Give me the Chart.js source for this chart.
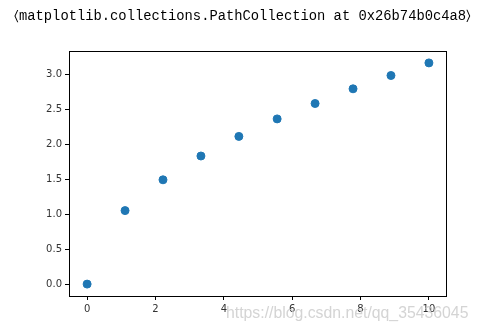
<!DOCTYPE html>
<html><head><meta charset="utf-8">
<script src="https://cdn.jsdelivr.net/npm/chart.js@4/dist/chart.umd.min.js"></script>
<style>html,body{margin:0;padding:0;background:#fff}#c{display:block}</style>
</head><body>
<canvas id="c" width="479" height="331"></canvas>
<script>
const xValues = [0, 1.11, 2.22, 3.33, 4.44, 5.56, 6.67, 7.78, 8.89, 10];
const yValues = [0, 1.05, 1.49, 1.83, 2.11, 2.36, 2.58, 2.79, 2.98, 3.16];
const xTicks = [0, 2, 4, 6, 8, 10];
const yTicks = [0, 0.5, 1.0, 1.5, 2.0, 2.5, 3.0];
const headerText = '\u2329matplotlib.collections.PathCollection at 0x26b74b0c4a8\u232A';
const watermarkText = 'https://blog.csdn.net/qq_35436045';

const points = xValues.map((x, i) => ({x: x, y: yValues[i]}));

const framePlugin = {
  id: 'frame',
  afterDraw(chart) {
    const ctx = chart.ctx, a = chart.chartArea;
    ctx.save();
    ctx.strokeStyle = '#000';
    ctx.lineWidth = 1;
    ctx.strokeRect(Math.round(a.left) + 0.5, Math.round(a.top) + 0.5, Math.round(a.right - a.left), Math.round(a.bottom - a.top));
    ctx.fillStyle = '#000';
    ctx.font = '13.8px "Liberation Mono", "DejaVu Sans Mono", monospace';
    ctx.textBaseline = 'middle';
    ctx.fillText(headerText, 14, 16);
    ctx.fillStyle = 'rgba(205,205,205,0.85)';
    ctx.font = '15.8px "Liberation Sans", Arial, sans-serif';
    ctx.fillText(watermarkText, 226, 314);
    ctx.restore();
  }
};

new Chart(document.getElementById('c'), {
  type: 'scatter',
  data: { datasets: [{ data: points, backgroundColor: '#1f77b4', borderColor: '#1f77b4', pointRadius: 4, pointHoverRadius: 4 }] },
  options: {
    responsive: false,
    animation: false,
    events: [],
    layout: { padding: { top: 51, right: 33, left: 0, bottom: 0 } },
    plugins: { legend: { display: false }, tooltip: { enabled: false } },
    scales: {
      x: {
        type: 'linear', min: -0.53, max: 10.5,
        afterBuildTicks: s => { s.ticks = xTicks.map(v => ({value: v})); },
        afterFit: s => { s.height = 35; },
        grid: { display: true, drawOnChartArea: false, drawTicks: true, tickLength: 4, color: '#000' },
        border: { display: true, color: '#000' },
        ticks: { color: '#333', font: { family: 'DejaVu Sans', size: 10 }, padding: 3, maxRotation: 0, callback: v => String(v) }
      },
      y: {
        type: 'linear', min: -0.17, max: 3.33,
        afterBuildTicks: s => { s.ticks = yTicks.map(v => ({value: v})); },
        afterFit: s => { s.width = 69; },
        grid: { display: true, drawOnChartArea: false, drawTicks: true, tickLength: 4, color: '#000' },
        border: { display: true, color: '#000' },
        ticks: { color: '#333', font: { family: 'DejaVu Sans', size: 10 }, padding: 3, callback: v => v.toFixed(1) }
      }
    }
  },
  plugins: [framePlugin]
});
</script>
</body></html>
